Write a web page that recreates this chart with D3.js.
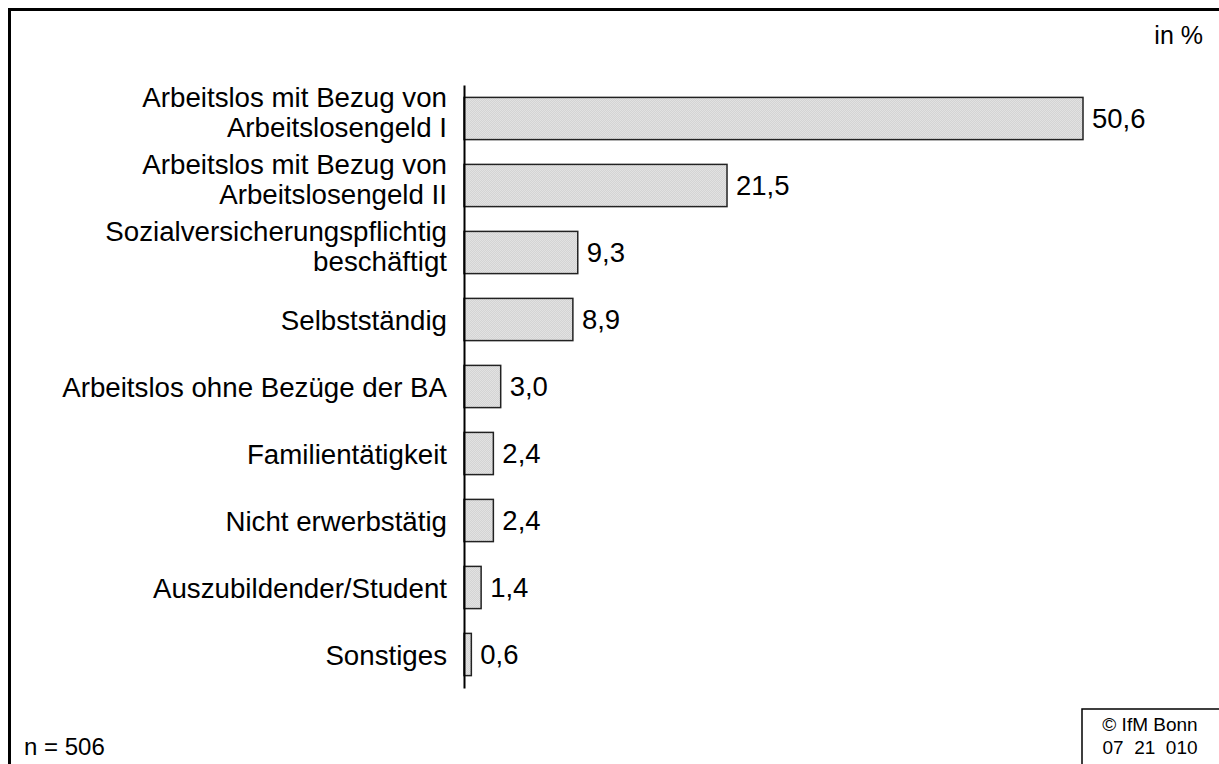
<!DOCTYPE html>
<html>
<head>
<meta charset="utf-8">
<script src="https://cdn.jsdelivr.net/npm/d3@7"></script>
<style>
  body { margin: 0; background: #fff; }
  text { font-family: "Liberation Sans", Arial, sans-serif; fill: #000; }
</style>
</head>
<body>
<div id="chart"></div>
<script>
// data
var categories = [
  ["Arbeitslos mit Bezug von", "Arbeitslosengeld I"],
  ["Arbeitslos mit Bezug von", "Arbeitslosengeld II"],
  ["Sozialversicherungspflichtig", "beschäftigt"],
  ["Selbstständig"],
  ["Arbeitslos ohne Bezüge der BA"],
  ["Familientätigkeit"],
  ["Nicht erwerbstätig"],
  ["Auszubildender/Student"],
  ["Sonstiges"]
];
var values = [50.6, 21.5, 9.3, 8.9, 3.0, 2.4, 2.4, 1.4, 0.6];
var unitLabel = "in %";
var sampleLabel = "n = 506";
var sourceLines = ["© IfM Bonn", "07  21  010"];

var svgWidth = 1219;
var svgHeight = 764;

var svg = d3.select("#chart")
  .append("svg")
  .attr("width", svgWidth)
  .attr("height", svgHeight);

var de = d3.formatLocale({decimal: ",", thousands: ".", grouping: [3], currency: ["", " €"]});
var fmt = de.format(".1f");

// fine hatch fill like the original bars
var defs = svg.append("defs");
var pat = defs.append("pattern")
  .attr("id", "hatch")
  .attr("patternUnits", "userSpaceOnUse")
  .attr("width", 2)
  .attr("height", 2);
pat.append("rect").attr("width", 2).attr("height", 2).attr("fill", "#e2e2e2");
pat.append("path")
  .attr("d", "M-0.5,0.5 l1,-1 M0,2 l2,-2 M1.5,2.5 l1,-1")
  .attr("stroke", "#cbcbcb")
  .attr("stroke-width", 0.6);

// outer frame (right and bottom run off the picture)
svg.append("rect")
  .attr("x", 9.5)
  .attr("y", 9.5)
  .attr("width", svgWidth + 20)
  .attr("height", svgHeight + 20)
  .attr("fill", "none")
  .attr("stroke", "#000")
  .attr("stroke-width", 3);

var idx = d3.range(values.length);

var x = d3.scaleLinear()
  .domain([0, 50.6])
  .range([464, 1083]);

var y = d3.scaleBand()
  .domain(idx)
  .range([85, 688])
  .paddingInner(0.37)
  .paddingOuter(0.185);

// bars
svg.selectAll("rect.bar")
  .data(idx)
  .enter()
  .append("rect")
  .attr("class", "bar")
  .attr("x", x(0))
  .attr("y", d => y(d))
  .attr("width", d => x(values[d]) - x(0))
  .attr("height", y.bandwidth())
  .attr("fill", "url(#hatch)")
  .attr("stroke", "#222")
  .attr("stroke-width", 1.5);

// category axis line
var yAxis = d3.axisLeft(y).tickSize(0).tickFormat("");
var axisG = svg.append("g")
  .attr("transform", `translate(${x(0)},0)`)
  .call(yAxis);
axisG.select(".domain").attr("stroke", "#000").attr("stroke-width", 2);

// category labels
var labels = svg.selectAll("text.cat")
  .data(idx)
  .enter()
  .append("text")
  .attr("class", "cat")
  .attr("text-anchor", "end")
  .attr("font-size", 27.7);

labels.each(function(d) {
  var lines = categories[d];
  var cy = y(d) + y.bandwidth() / 2;
  var t = d3.select(this);
  if (lines.length === 1) {
    t.append("tspan").attr("x", 447).attr("y", cy + 10).text(lines[0]);
  } else {
    t.append("tspan").attr("x", 447).attr("y", cy - 12).text(lines[0]);
    t.append("tspan").attr("x", 447).attr("y", cy + 18).text(lines[1]);
  }
});

// value labels
svg.selectAll("text.val")
  .data(idx)
  .enter()
  .append("text")
  .attr("class", "val")
  .attr("x", d => x(values[d]) + 9)
  .attr("y", d => y(d) + y.bandwidth() / 2 + 9)
  .attr("font-size", 27.5)
  .text(d => fmt(values[d]));

// unit
svg.append("text")
  .attr("x", 1203)
  .attr("y", 44)
  .attr("text-anchor", "end")
  .attr("font-size", 25)
  .text(unitLabel);

// sample size
svg.append("text")
  .attr("x", 24)
  .attr("y", 755)
  .attr("font-size", 24)
  .text(sampleLabel);

// source box
svg.append("rect")
  .attr("x", 1082)
  .attr("y", 709)
  .attr("width", 200)
  .attr("height", 100)
  .attr("fill", "#fff")
  .attr("stroke", "#000")
  .attr("stroke-width", 1.5);

svg.selectAll("text.src")
  .data(sourceLines)
  .enter()
  .append("text")
  .attr("class", "src")
  .attr("x", 1150)
  .attr("y", (d, i) => 731 + i * 23)
  .attr("text-anchor", "middle")
  .attr("font-size", 19)
  .style("white-space", "pre")
  .text(d => d);
</script>
</body>
</html>
